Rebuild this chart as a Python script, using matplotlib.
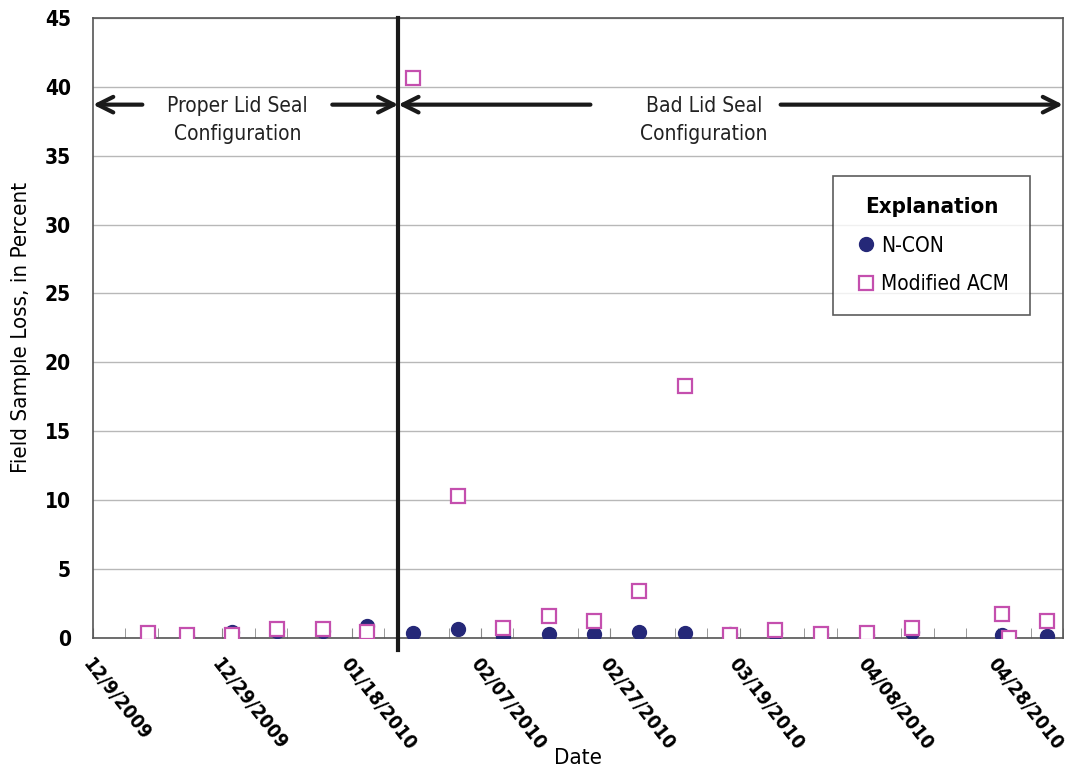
import pandas as pd
import numpy as np
import matplotlib
matplotlib.use('Agg')
import matplotlib.pyplot as plt

## DATA
ncon_dates = ['2009-12-17 12:00', '2009-12-23 14:00', '2009-12-30 12:00', '2010-01-06 12:00',
              '2010-01-13 12:00', '2010-01-20 10:00', '2010-01-27 12:00', '2010-02-03 12:00',
              '2010-02-10 10:00', '2010-02-17 14:00', '2010-02-24 12:00', '2010-03-03 12:00',
              '2010-03-10 14:00', '2010-03-17 12:00', '2010-03-24 12:00', '2010-03-31 12:00',
              '2010-04-07 17:00', '2010-04-14 17:00', '2010-04-28 14:00', '2010-05-05 14:00']
ncon_loss = [0.15, 0.1, 0.4, 0.5, 0.5, 0.85, 0.35, 0.65,
             0.1, 0.3, 0.3, 0.45, 0.35, 0.3, 0.35, 0.3,
             0.2, 0.45, 0.2, 0.15]

acm_dates = ['2009-12-17 12:00', '2009-12-23 14:00', '2009-12-30 12:00', '2010-01-06 12:00',
             '2010-01-13 12:00', '2010-01-20 10:00', '2010-01-27 12:00', '2010-02-03 12:00',
             '2010-02-10 10:00', '2010-02-17 14:00', '2010-02-24 12:00', '2010-03-03 12:00',
             '2010-03-10 14:00', '2010-03-17 12:00', '2010-03-24 12:00', '2010-03-31 12:00',
             '2010-04-07 17:00', '2010-04-14 17:00', '2010-04-28 14:00', '2010-04-29 17:00',
             '2010-05-05 14:00']
acm_loss = [0.35, 0.2, 0.2, 0.65, 0.65, 0.4, 40.6, 10.3,
            0.7, 1.6, 1.2, 3.4, 18.3, 0.2, 0.55, 0.3,
            0.35, 0.7, 1.75, 0.0, 1.25]

x_start = '2009-12-09'
x_end = '2010-05-08'
seal_change = '2010-01-25 05:00'

ncon_dates = pd.to_datetime(ncon_dates)
acm_dates = pd.to_datetime(acm_dates)

FONT = ['DejaVu Sans']
plt.rcParams['font.family'] = FONT
plt.rcParams['font.stretch'] = 'condensed'

fig = plt.figure(figsize=(10.78, 7.76), dpi=100)
ax = fig.add_axes([0.0863, 0.178, 0.8998, 0.799])

ax.set_ylim(0, 45)
ax.set_yticks(np.arange(0, 50, 5))
ax.yaxis.grid(True, color='#b8b8b8', linewidth=1)
ax.set_axisbelow(True)
ax.set_xlim(pd.Timestamp(x_start), pd.Timestamp(x_end))

# PLOT
ax.plot(ncon_dates, ncon_loss, 'o', color='#252878', markersize=10, linestyle='none',
        label='N-CON', zorder=3)
ax.plot(acm_dates, acm_loss, 's', markerfacecolor='white', markeredgecolor='#c44fae',
        markeredgewidth=1.6, markersize=10, linestyle='none', label='Modified ACM', zorder=4)

# SEAL CHANGE LINE
ax.axvline(pd.Timestamp(seal_change), color='#1a1a1a', linewidth=3, zorder=5, clip_on=False,
           ymin=-0.02, ymax=1.0)

# X TICKS
major = pd.date_range(x_start, x_end, freq='20D')
minor = pd.date_range(x_start, x_end, freq='5D')
ax.set_xticks(major)
ax.set_xticks(minor, minor=True)
ax.set_xticklabels([d.strftime('%m/%d/%Y') if i > 0 else '12/9/2009' for i, d in enumerate(major)],
                   rotation=-52, ha='left', va='top', rotation_mode='anchor',
                   fontsize=14, fontweight='bold')
ax.tick_params(axis='x', which='both', direction='in', length=7, color='#888888', pad=12)
ax.tick_params(axis='y', length=0, labelsize=15, pad=16)
for t in ax.get_yticklabels():
    t.set_fontweight('bold')

for s in ax.spines.values():
    s.set_color('#555555')
    s.set_linewidth(1.2)

ax.set_ylabel('Field Sample Loss, in Percent', fontsize=16, labelpad=10)
ax.set_xlabel('Date', fontsize=16, labelpad=0)
ax.xaxis.set_label_coords(0.5, -0.178)

# ANNOTATIONS
arrow_y = 38.7
arr = dict(arrowstyle='->', color='#1a1a1a', lw=3, mutation_scale=28, shrinkA=0, shrinkB=0)
ax.annotate('', xy=(pd.Timestamp(x_start), arrow_y), xytext=(pd.Timestamp('2009-12-16 15:00'), arrow_y),
            arrowprops=arr, annotation_clip=False)
ax.annotate('', xy=(pd.Timestamp(seal_change), arrow_y), xytext=(pd.Timestamp('2010-01-15'), arrow_y),
            arrowprops=arr)
ax.annotate('', xy=(pd.Timestamp(seal_change), arrow_y), xytext=(pd.Timestamp('2010-02-23 22:00'), arrow_y),
            arrowprops=arr)
ax.annotate('', xy=(pd.Timestamp(x_end), arrow_y), xytext=(pd.Timestamp('2010-03-25 08:00'), arrow_y),
            arrowprops=arr, annotation_clip=False)
ax.text(pd.Timestamp('2009-12-31 08:00'), arrow_y - 1.1, 'Proper Lid Seal\nConfiguration', ha='center',
        va='center', fontsize=15, linespacing=1.5, color='#222222')
ax.text(pd.Timestamp('2010-03-13 12:00'), arrow_y - 1.1, 'Bad Lid Seal\nConfiguration', ha='center',
        va='center', fontsize=15, linespacing=1.5, color='#222222')

# LEGEND
leg = ax.legend(loc='upper left', bbox_to_anchor=(0.763, 0.745), title='Explanation',
                fontsize=15, title_fontproperties={'weight': 'bold', 'size': 16, 'stretch': 'condensed'},
                frameon=True, fancybox=False, edgecolor='#333333', handletextpad=0.1,
                handlelength=1.2, borderpad=1.0, labelspacing=0.9, borderaxespad=0)
leg.get_frame().set_linewidth(1.2)
leg.set_zorder(6)

plt.savefig('out.png', dpi=100)
